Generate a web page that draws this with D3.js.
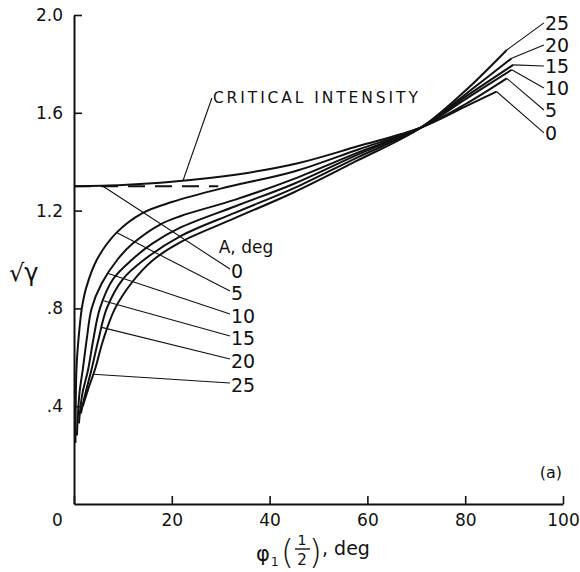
<!DOCTYPE html>
<html>
<head>
<meta charset="utf-8">
<script src="https://cdn.jsdelivr.net/npm/d3@7"></script>
<style>
  body { margin: 0; background: #fff; }
  text { font-family: "DejaVu Sans", sans-serif; fill: #111; }
</style>
</head>
<body>
<script>
// values: phi1(1/2) in deg, sqrt(gamma)
const anglesA = [0, 5, 10, 15, 20, 25];

const curveA0 = [[0, 1.30], [10, 1.305], [20, 1.318], [33, 1.347], [46, 1.395], [58, 1.463], [71, 1.54], [80, 1.625], [86.4, 1.687]];
const curveA5 = [[0.3, 0.25], [0.5, 0.55], [0.9, 0.67], [1.6, 0.8], [2.5, 0.885], [4.7, 1.0], [8.7, 1.11], [14, 1.19], [20, 1.235], [30, 1.29], [45, 1.36], [58, 1.449], [71, 1.54], [80, 1.635], [88.5, 1.741]];
const curveA10 = [[0.6, 0.28], [1.1, 0.45], [1.8, 0.551], [2.6, 0.673], [3.6, 0.8], [5.6, 0.9], [8.9, 1.0], [12, 1.065], [17.6, 1.143], [21.7, 1.177], [33, 1.245], [45, 1.33], [58, 1.437], [71, 1.54], [80, 1.655], [89.5, 1.776]];
const curveA15 = [[1.0, 0.33], [1.7, 0.45], [2.9, 0.551], [3.95, 0.673], [5.3, 0.8], [8, 0.92], [11.9, 1.0], [16, 1.065], [21.7, 1.13], [33, 1.218], [45, 1.31], [58, 1.429], [71, 1.54], [80, 1.665], [89.8, 1.796]];
const curveA20 = [[1.4, 0.37], [2.3, 0.45], [3.6, 0.551], [5.0, 0.673], [6.7, 0.8], [10, 0.92], [14.4, 1.0], [21.7, 1.095], [33, 1.192], [45, 1.292], [58, 1.418], [71, 1.54], [80, 1.675], [89.5, 1.823]];
const curveA25 = [[1.8, 0.40], [2.9, 0.47], [4.3, 0.551], [6.0, 0.673], [8.4, 0.8], [12, 0.91], [16, 0.995], [21.7, 1.07], [33, 1.17], [45, 1.275], [58, 1.405], [71, 1.54], [80, 1.69], [88.5, 1.857]];
const dashedCritical = [[0, 1.30], [29.5, 1.30]];

const xTicks = [0, 20, 40, 60, 80, 100];
const yTicks = [0.4, 0.8, 1.2, 1.6, 2.0];
const yTickLabels = [".4", ".8", "1.2", "1.6", "2.0"];

// where each left leader touches its curve (phi value)
const leftLeaderPhi = [5.7, 8.7, 7.0, 6.0, 5.66, 3.95];

const curves = [curveA0, curveA5, curveA10, curveA15, curveA20, curveA25];

// ---- layout of labels (data units)
const leftLabelX = 32.1;
const leftLabelY = [0.924, 0.834, 0.740, 0.650, 0.556, 0.458];
const rightLabelX = 96.3;
const rightLabelY = [1.489, 1.583, 1.673, 1.763, 1.849, 1.939];

const W = 580, H = 572;
const svg = d3.select("body").append("svg")
  .attr("width", W)
  .attr("height", H);

const x = d3.scaleLinear().domain([0, 100]).range([74, 563]);
const y = d3.scaleLinear().domain([0, 2]).range([504, 15]);

// axes
const xAxis = d3.axisBottom(x)
  .tickValues(xTicks)
  .tickSizeInner(-8)
  .tickSizeOuter(0)
  .tickPadding(10)
  .tickFormat(d3.format("d"));

const gx = svg.append("g")
  .attr("transform", "translate(0," + y(0) + ")")
  .call(xAxis)
  .attr("font-size", 17);
gx.selectAll("text").filter(function(d) { return d === 0; }).attr("dx", -17);

const yAxis = d3.axisLeft(y)
  .tickValues(yTicks)
  .tickSizeInner(-8)
  .tickSizeOuter(0)
  .tickPadding(11)
  .tickFormat(function(d, i) { return yTickLabels[i]; });

const gy = svg.append("g")
  .attr("transform", "translate(" + x(0) + ",0)")
  .call(yAxis)
  .attr("font-size", 17);

svg.selectAll(".domain").attr("stroke", "#111").attr("stroke-width", 2);
svg.selectAll(".tick line").attr("stroke", "#111").attr("stroke-width", 1.6);

// curves
const line = d3.line()
  .x(function(d) { return x(d[0]); })
  .y(function(d) { return y(d[1]); })
  .curve(d3.curveCatmullRom.alpha(0.5));

svg.append("g")
  .selectAll("path")
  .data(curves)
  .enter()
  .append("path")
  .attr("d", line)
  .attr("fill", "none")
  .attr("stroke", "#111")
  .attr("stroke-width", 2);

svg.append("path")
  .datum(dashedCritical)
  .attr("d", d3.line().x(function(d) { return x(d[0]); }).y(function(d) { return y(d[1]); }))
  .attr("fill", "none")
  .attr("stroke", "#111")
  .attr("stroke-width", 2)
  .attr("stroke-dasharray", "17,10");

function yAt(serie, phi) {
  for (let i = 1; i < serie.length; i++) {
    if (phi <= serie[i][0]) {
      const a = serie[i - 1], b = serie[i];
      return a[1] + (b[1] - a[1]) * (phi - a[0]) / (b[0] - a[0]);
    }
  }
  return serie[serie.length - 1][1];
}

// left labels + leaders
const leaders = svg.append("g").attr("stroke", "#111").attr("stroke-width", 1.1);
anglesA.forEach(function(a, i) {
  const phi = leftLeaderPhi[i];
  leaders.append("line")
    .attr("x1", x(phi)).attr("y1", y(yAt(curves[i], phi)))
    .attr("x2", x(leftLabelX) - 1).attr("y2", y(leftLabelY[i]) - 9);
  svg.append("text")
    .attr("x", x(leftLabelX))
    .attr("y", y(leftLabelY[i]))
    .attr("font-size", 19)
    .text(a);

  const end = curves[i][curves[i].length - 1];
  leaders.append("line")
    .attr("x1", x(end[0])).attr("y1", y(end[1]))
    .attr("x2", x(rightLabelX) - 1).attr("y2", y(rightLabelY[i]) - 7);
  svg.append("text")
    .attr("x", x(rightLabelX))
    .attr("y", y(rightLabelY[i]))
    .attr("font-size", 19)
    .text(a);
});

// critical intensity label
const critX = 28.4, critY = 1.64, critLeaderPhi = 22.3;
leaders.append("line")
  .attr("x1", x(critX) - 1).attr("y1", y(critY) - 5)
  .attr("x2", x(critLeaderPhi)).attr("y2", y(yAt(curveA0, critLeaderPhi)));
svg.append("text")
  .attr("x", x(critX))
  .attr("y", y(critY))
  .attr("font-size", 15.5)
  .attr("textLength", 205)
  .attr("lengthAdjust", "spacing")
  .text("CRITICAL INTENSITY");

svg.append("text")
  .attr("x", x(29.6))
  .attr("y", y(1.025))
  .attr("font-size", 17)
  .text("A, deg");

svg.append("text")
  .attr("x", 562)
  .attr("y", 478)
  .attr("text-anchor", "end")
  .attr("font-size", 16)
  .text("(a)");

// y title
svg.append("text")
  .attr("x", 9)
  .attr("y", 281)
  .attr("font-size", 24)
  .text("√γ");

// x title: phi_1 (1/2), deg
const xt = svg.append("g");
xt.append("text").attr("x", 256).attr("y", 561).attr("font-size", 21).text("φ");
xt.append("text").attr("x", 271).attr("y", 566).attr("font-size", 12).text("1");
xt.append("text").attr("x", 281).attr("y", 564).attr("font-size", 33).attr("font-weight", 300).text("(");
xt.append("text").attr("x", 302).attr("y", 545).attr("font-size", 14).attr("text-anchor", "middle").text("1");
xt.append("line").attr("x1", 295).attr("x2", 310).attr("y1", 549).attr("y2", 549).attr("stroke", "#111").attr("stroke-width", 1.4);
xt.append("text").attr("x", 302).attr("y", 565).attr("font-size", 15).attr("text-anchor", "middle").text("2");
xt.append("text").attr("x", 309).attr("y", 564).attr("font-size", 33).attr("font-weight", 300).text(")");
xt.append("text").attr("x", 322).attr("y", 555).attr("font-size", 19).text(", deg");
</script>
</body>
</html>
